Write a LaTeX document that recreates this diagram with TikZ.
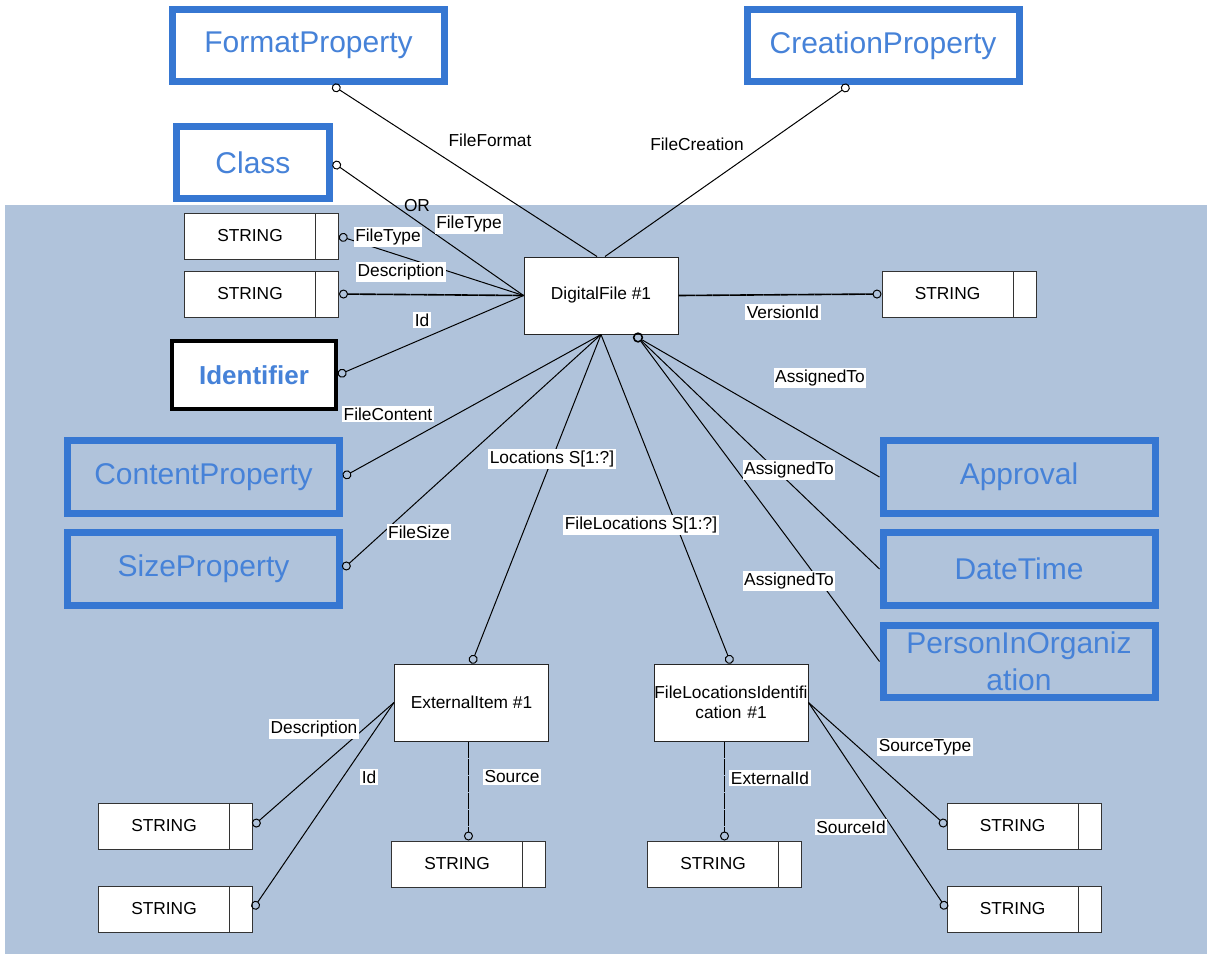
\documentclass[tikz,border=0pt]{standalone}
\usepackage{fontspec}
\setmainfont{Liberation Sans}
\usetikzlibrary{calc,arrows.meta}
\definecolor{bluex}{HTML}{3677D2}
\definecolor{bluetxt}{HTML}{4682D8}
\definecolor{bgx}{HTML}{B0C3DB}
\newcommand{\labfont}{\fontsize{13}{15}\selectfont}
\newcommand{\bigfont}{\fontsize{22.5}{27.75}\selectfont}
\tikzset{
  bluebox/.style={draw=bluex,line width=5.25pt,text=bluetxt,font=\bigfont,minimum width=204pt,minimum height=54.5pt,inner sep=0pt,align=center},
  idbox/.style={draw=black,line width=3pt,fill=white,text=bluetxt,font=\fontsize{19.5}{22}\selectfont\bfseries,minimum width=123pt,minimum height=51pt,inner sep=0pt},
  ent/.style={draw=black!85,line width=0.75pt,fill=white,font=\labfont,minimum width=115.5pt,minimum height=57.75pt,inner sep=0pt,align=center},
  strbox/.style={draw=black!80,line width=0.75pt,fill=white,font=\labfont,minimum width=115.5pt,minimum height=34.5pt,inner sep=0pt,
    path picture={\draw[black!80,line width=0.75pt] ([xshift=-17.25pt]path picture bounding box.north east) -- ([xshift=-17.25pt]path picture bounding box.south east);}},
  conn/.style={line width=0.75pt,-{Circle[open,length=6.75pt,line width=0.75pt]}},
  dconn/.style={conn,line width=1.2pt,dash pattern=on 4pt off 0.25pt},
  lab/.style={fill=white,font=\labfont,inner sep=1.2pt}
}
\begin{document}
\begin{tikzpicture}[x=0.75pt,y=-0.75pt]
\useasboundingbox (0,0) rectangle (1207,954);
\fill[white] (0,0) rectangle (1207,954);
\fill[bgx] (5,205) rectangle (1207,954);

% entities
\node[ent] (df) at (601,295.5) {DigitalFile \#1};
\node[ent] (ext) at (471.5,702.5) {ExternalItem \#1};
\node[ent,text width=115.5pt] (floc) at (731,702.5) {FileLocationsIdentifi\\cation \#1};

% property boxes
\node[bluebox,fill=white] (fp) at (308.5,45.5) {FormatProperty};
\node[bluebox,fill=white] (cp) at (883,45.5) {CreationProperty};
\node[bluebox,fill=white,minimum width=114.75pt] (cls) at (253,162.5) {Class};
\node[idbox] (idf) at (254,375) {Identifier};
\node[bluebox] (ctp) at (203.5,477) {ContentProperty};
\node[bluebox] (szp) at (203.5,569) {SizeProperty};
\node[bluebox] (apv) at (1019,477) {Approval};
\node[bluebox] (dtm) at (1019,569) {DateTime};
\node[bluebox] (pio) at (1019,661.5) {PersonInOrganiz\\ation};

% STRING boxes
\foreach \n/\p in {sft/{261.5,236},sdsc/{261.5,294},sver/{959,294},sed/{175.5,826},sei/{175.5,909},ssrc/{468.5,864},sexi/{724.5,864},sst/{1024,826},ssi/{1024,909}}
  \node[strbox] (\n) at (\p) {STRING\kern17.25pt};

% connectors
\draw[conn] ($(df.north)+(-4,0)$) -- ($(fp.south)+(24,0)$);
\draw[conn] ($(df.north)+(4,0)$) -- ($(cp.south)+(-34,0)$);
\draw[conn] (df.west) -- (cls.east);
\draw[conn] (df.west) -- (sft.east);
\draw[dconn] (df.west) -- (sdsc.east);
\draw[conn] (df.west) -- (idf.east);
\draw[conn] (df.south) -- (ctp.east);
\draw[conn] (df.south) -- (szp.east);
\draw[conn] (df.south) -- (ext.north);
\draw[conn] (df.south) -- (floc.north);
\draw[dconn] (df.east) -- (sver.west);
\node[circle,draw,line width=1.2pt,inner sep=0pt,minimum size=6.5pt] (asg) at ($(df.south)+(37,3)$) {};
\draw[line width=0.75pt] (asg) -- (apv.west);
\draw[line width=0.75pt] (asg) -- (dtm.west);
\draw[line width=0.75pt] (asg) -- (pio.west);
\draw[conn] (ext.west) -- (sed.east);
\draw[conn] (ext.west) -- (sei.east);
\draw[dconn] (ext.south -| ssrc.north) -- (ssrc.north);
\draw[dconn] (floc.south -| sexi.north) -- (sexi.north);
\draw[conn] (floc.east) -- (sst.west);
\draw[conn] (floc.east) -- (ssi.west);

% labels
\node[lab] (lff) at (490,140) {FileFormat};
\node[lab] (lfc) at (697,144) {FileCreation};
\node[font=\labfont] (lor) at (417,206) {OR};
\node[lab] (lft1) at (469,224) {FileType};
\node[lab] (lft2) at (388,237) {FileType};
\node[lab] (ldsc) at (401,272) {Description};
\node[lab] (lid) at (422,320) {Id};
\node[lab] (lfct) at (388,414) {FileContent};
\node[lab] (lfsz) at (419,532) {FileSize};
\node[lab] (lloc) at (552,459) {Locations S[1:?]};
\node[lab] (lfloc) at (641,525) {FileLocations S[1:?]};
\node[lab] (lver) at (783,312) {VersionId};
\node[lab] (las1) at (820,378) {AssignedTo};
\node[lab] (las2) at (789,470) {AssignedTo};
\node[lab] (las3) at (789,581) {AssignedTo};
\node[lab] (ledsc) at (314,729) {Description};
\node[lab] (leid) at (369,777) {Id};
\node[lab] (lsrc) at (512,777) {Source};
\node[lab] (lexi) at (770,778) {ExternalId};
\node[lab] (lst) at (925,747) {SourceType};
\node[lab] (lsi) at (851,827) {SourceId};
\end{tikzpicture}
\end{document}
